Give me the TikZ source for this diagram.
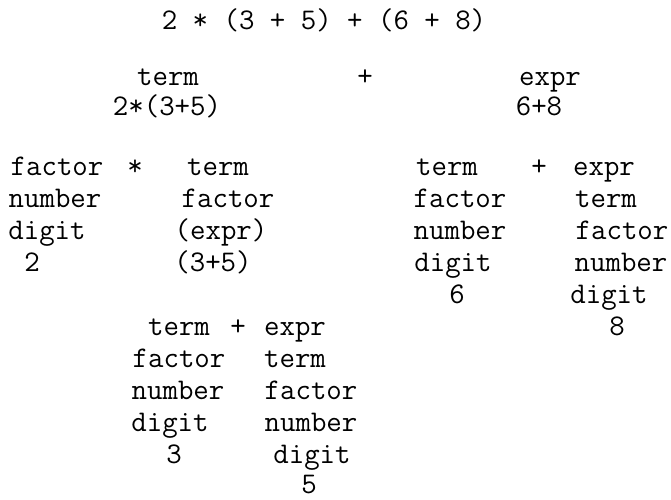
\documentclass[tikz,border=0pt]{standalone}
\usepackage{tikz}
\tikzstyle{sym} = [font=\ttfamily\fontsize{30}{36}\selectfont, anchor=base, inner sep=0pt]

\begin{document}
\begin{tikzpicture}[x=1pt, y=-1pt]
        \useasboundingbox (0,0) rectangle (671,499);

        \node[sym] (input) at (324,29) {2 * (3 + 5) + (6 + 8)};

        % First split
        \node[sym] (term) at (168,85) {term};
        \node[sym] (plus) at (365,85) {+};
        \node[sym] (expr) at (550,85) {expr};
        \node[sym] (termtxt) at (167,115) {2*(3+5)};
        \node[sym] (exprtxt) at (539,115) {6+8};

        % Left: 2*(3+5)
        \node[sym] (lfactor) at (57,175) {factor};
        \node[sym] (ltimes) at (135,175) {*};
        \node[sym] (lterm) at (218,175) {term};
        \node[sym] (lnumber) at (55,207) {number};
        \node[sym] (ltfactor) at (228,207) {factor};
        \node[sym] (ldigit) at (47,239) {digit};
        \node[sym] (lparen) at (221,239) {(expr)};
        \node[sym] (ltwo) at (32,271) {2};
        \node[sym] (lparentxt) at (213,271) {(3+5)};

        % Inner: 3+5
        \node[sym] (iterm) at (179,335) {term};
        \node[sym] (iplus) at (238,335) {+};
        \node[sym] (iexpr) at (295,335) {expr};
        \node[sym] (ifactor) at (179,367) {factor};
        \node[sym] (ieterm) at (295,367) {term};
        \node[sym] (inumber) at (178,399) {number};
        \node[sym] (iefactor) at (311,399) {factor};
        \node[sym] (idigit) at (170,431) {digit};
        \node[sym] (ienumber) at (311,431) {number};
        \node[sym] (ithree) at (174,463) {3};
        \node[sym] (iedigit) at (312,463) {digit};
        \node[sym] (ifive) at (309,493) {5};

        % Right: 6+8
        \node[sym] (rterm) at (447,175) {term};
        \node[sym] (rplus) at (539,175) {+};
        \node[sym] (rexpr) at (604,175) {expr};
        \node[sym] (rfactor) at (460,207) {factor};
        \node[sym] (reterm) at (606,207) {term};
        \node[sym] (rnumber) at (460,239) {number};
        \node[sym] (refactor) at (622,239) {factor};
        \node[sym] (rdigit) at (453,271) {digit};
        \node[sym] (renumber) at (621,271) {number};
        \node[sym] (rsix) at (457,303) {6};
        \node[sym] (redigit) at (609,303) {digit};
        \node[sym] (reight) at (617,335) {8};
    \end{tikzpicture}
\end{document}
